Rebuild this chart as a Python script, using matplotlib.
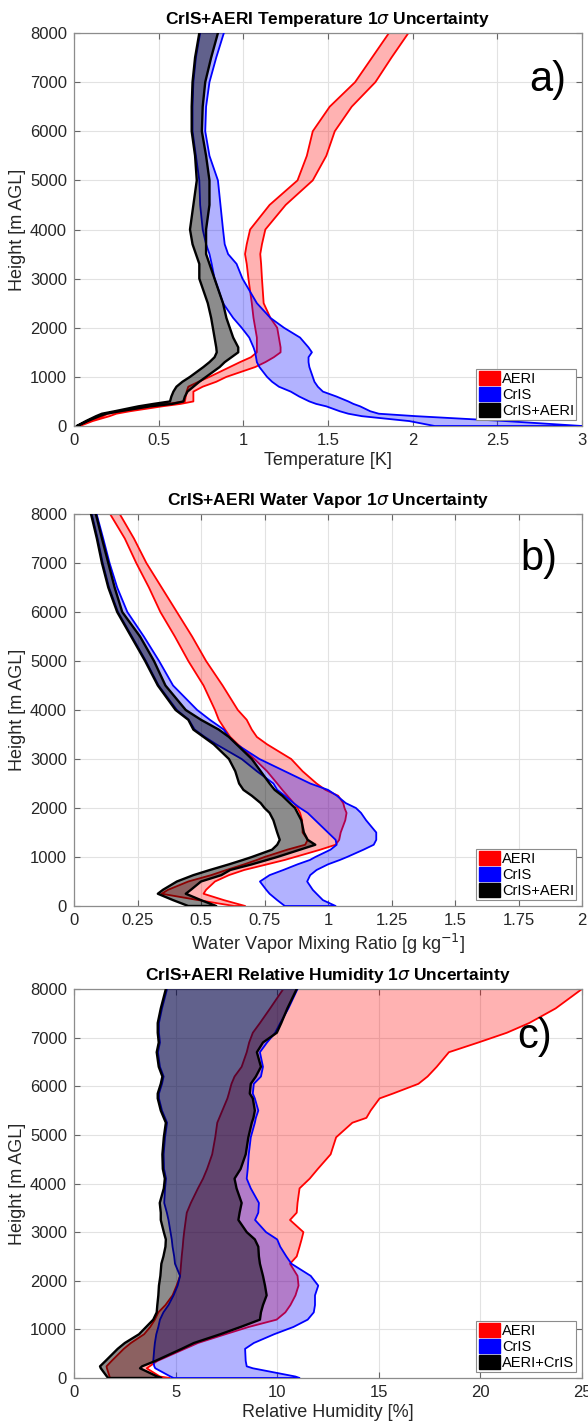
import numpy as np
import matplotlib
matplotlib.use("Agg")
import matplotlib.pyplot as plt
from matplotlib.patches import Patch

plt.rcParams['font.family'] = ['Liberation Sans', 'DejaVu Sans']

# ---------- Data ----------
# (a) Temperature 1-sigma uncertainty [K]
a_height = [0, 100, 200, 250, 300, 400, 450, 500, 600, 700, 800, 900, 1000, 1200,
            1300, 1400, 1500, 1600, 1800, 2000, 2200, 2500, 3000, 3300, 3500, 3700,
            4000, 4500, 5000, 5500, 6000, 6500, 7000, 7500, 8000]
a_aeri_lo = [0.02, 0.09, 0.17, 0.20, 0.27, 0.44, 0.55, 0.655, 0.66, 0.665, 0.675, 0.735,
             0.80, 0.92, 0.98, 1.045, 1.08, 1.08, 1.08, 1.07, 1.06, 1.05, 1.03, 1.02,
             1.01, 1.02, 1.04, 1.155, 1.32, 1.375, 1.41, 1.51, 1.66, 1.76, 1.86]
a_aeri_hi = [0.035, 0.11, 0.21, 0.25, 0.33, 0.52, 0.63, 0.705, 0.705, 0.705, 0.76, 0.84,
             0.90, 1.07, 1.13, 1.18, 1.22, 1.22, 1.21, 1.20, 1.16, 1.12, 1.11, 1.105,
             1.10, 1.11, 1.13, 1.25, 1.41, 1.49, 1.54, 1.64, 1.78, 1.875, 1.975]
a_cris_lo = [2.13, 1.98, 1.70, 1.62, 1.57, 1.49, 1.43, 1.39, 1.33, 1.28, 1.21, 1.17,
             1.14, 1.095, 1.08, 1.075, 1.07, 1.06, 1.035, 0.99, 0.94, 0.88, 0.83, 0.813,
             0.80, 0.78, 0.76, 0.745, 0.74, 0.72, 0.70, 0.70, 0.705, 0.72, 0.745]
a_cris_hi = [3.0, 2.55, 2.02, 1.80, 1.75, 1.69, 1.65, 1.62, 1.55, 1.47, 1.44, 1.42,
             1.41, 1.39, 1.385, 1.385, 1.405, 1.385, 1.335, 1.24, 1.16, 1.08, 0.995, 0.96,
             0.91, 0.89, 0.88, 0.865, 0.85, 0.80, 0.775, 0.78, 0.80, 0.84, 0.885]
a_both_lo = [0.016, 0.07, 0.13, 0.165, 0.24, 0.38, 0.47, 0.567, 0.575, 0.587, 0.605, 0.64,
             0.685, 0.764, 0.80, 0.83, 0.843, 0.84, 0.83, 0.82, 0.81, 0.79, 0.74, 0.74,
             0.72, 0.70, 0.685, 0.705, 0.725, 0.715, 0.695, 0.695, 0.70, 0.715, 0.74]
a_both_hi = [0.02, 0.08, 0.15, 0.19, 0.27, 0.45, 0.58, 0.646, 0.655, 0.67, 0.705, 0.74,
             0.78, 0.86, 0.89, 0.93, 0.97, 0.97, 0.94, 0.92, 0.90, 0.88, 0.83, 0.80,
             0.78, 0.78, 0.78, 0.80, 0.80, 0.78, 0.755, 0.76, 0.775, 0.81, 0.85]

# (b) Water vapour mixing ratio 1-sigma uncertainty [g/kg]
b_height = [0, 120, 250, 330, 500, 630, 735, 850, 940, 1000, 1150, 1250, 1350, 1500,
            1750, 1900, 2000, 2100, 2250, 2370, 2500, 2750, 3000, 3300, 3450, 3600,
            3800, 4000, 4500, 5000, 5500, 6000, 6500, 7000, 7500, 8000]
b_aeri_lo = [0.63, 0.49, 0.345, 0.37, 0.45, 0.54, 0.60, 0.67, 0.72, 0.75, 0.84, 0.91,
             0.92, 0.90, 0.898, 0.89, 0.88, 0.865, 0.84, 0.82, 0.80, 0.76, 0.71, 0.645,
             0.615, 0.595, 0.57, 0.555, 0.51, 0.45, 0.397, 0.34, 0.295, 0.245, 0.20, 0.142]
b_aeri_hi = [0.674, 0.59, 0.51, 0.52, 0.555, 0.61, 0.67, 0.76, 0.83, 0.87, 0.97, 1.03,
             1.044, 1.05, 1.068, 1.073, 1.065, 1.06, 1.04, 0.99, 0.955, 0.90, 0.855, 0.76,
             0.72, 0.70, 0.68, 0.645, 0.585, 0.52, 0.465, 0.405, 0.345, 0.285, 0.236, 0.18]
b_cris_lo = [0.83, 0.80, 0.77, 0.757, 0.732, 0.77, 0.824, 0.88, 0.929, 0.95, 1.01, 1.034,
             1.03, 1.0, 0.95, 0.92, 0.89, 0.864, 0.83, 0.80, 0.785, 0.72, 0.66, 0.56,
             0.515, 0.475, 0.452, 0.405, 0.333, 0.283, 0.228, 0.173, 0.138, 0.113, 0.093, 0.07]
b_cris_hi = [1.03, 0.98, 0.955, 0.94, 0.918, 0.93, 0.955, 1.0, 1.047, 1.075, 1.14, 1.18,
             1.19, 1.19, 1.15, 1.13, 1.11, 1.07, 1.035, 1.0, 0.93, 0.83, 0.73, 0.64,
             0.61, 0.59, 0.535, 0.485, 0.39, 0.335, 0.275, 0.21, 0.17, 0.14, 0.115, 0.089]
b_both_lo = [0.45, 0.39, 0.33, 0.35, 0.405, 0.47, 0.535, 0.61, 0.665, 0.70, 0.78, 0.80,
             0.81, 0.80, 0.785, 0.77, 0.75, 0.735, 0.70, 0.667, 0.65, 0.635, 0.61, 0.55,
             0.51, 0.47, 0.45, 0.40, 0.33, 0.28, 0.225, 0.17, 0.135, 0.11, 0.09, 0.067]
b_both_hi = [0.56, 0.50, 0.44, 0.46, 0.50, 0.58, 0.615, 0.70, 0.76, 0.80, 0.89, 0.95,
             0.92, 0.905, 0.895, 0.88, 0.87, 0.85, 0.82, 0.79, 0.77, 0.735, 0.70, 0.64,
             0.61, 0.57, 0.50, 0.44, 0.36, 0.315, 0.26, 0.19, 0.16, 0.135, 0.11, 0.086]

# (c) Relative humidity 1-sigma uncertainty [%]
c_height = [0, 30, 200, 240, 350, 600, 720, 900, 1050, 1200, 1350, 1500, 1700, 1900,
            2100, 2350, 2500, 2700, 2850, 3000, 3250, 3400, 3600, 3900, 4100, 4300,
            4600, 4950, 5250, 5350, 5500, 5750, 5850, 6050, 6200, 6400, 6700, 6900,
            7100, 7300, 7600, 8000]
c_aeri_lo = [1.77, 1.75, 1.62, 1.6, 1.85, 2.45, 2.8, 3.45, 3.75, 3.98, 4.15, 4.5, 4.85,
             5.05, 5.22, 5.27, 5.3, 5.35, 5.38, 5.42, 5.5, 5.55, 5.75, 6.1, 6.35, 6.55,
             6.8, 6.95, 7.05, 7.15, 7.3, 7.55, 7.62, 7.75, 7.9, 8.25, 8.5, 8.62, 8.8,
             9.15, 9.65, 10.3]
c_aeri_hi = [4.72, 4.23, 3.58, 3.72, 4.1, 5.45, 6.1, 7.45, 8.6, 9.97, 10.4, 10.65, 10.9,
             11.05, 11.0, 10.63, 10.96, 11.1, 11.2, 11.29, 10.63, 10.96, 11.0, 11.1, 11.6,
             12.0, 12.63, 12.9, 13.7, 14.39, 14.6, 15.04, 15.7, 16.95, 17.4, 17.85, 18.45,
             19.9, 21.3, 22.4, 23.7, 25.0]
c_cris_lo = [4.9, 4.75, 4.0, 3.95, 3.9, 3.95, 3.98, 4.05, 4.15, 4.23, 4.4, 4.65, 4.9,
             5.1, 5.22, 4.97, 4.93, 4.85, 4.81, 4.75, 4.65, 4.57, 4.44, 4.48, 4.53, 4.43,
             4.41, 4.48, 4.58, 4.48, 4.33, 4.18, 4.18, 4.33, 4.41, 4.23, 4.13, 4.23, 4.18,
             4.18, 4.33, 4.58]
c_cris_hi = [11.1, 10.9, 8.8, 8.5, 8.45, 8.42, 8.85, 9.85, 10.8, 11.5, 11.8, 11.86, 11.86,
             12.02, 11.65, 10.7, 10.45, 10.15, 10.0, 9.45, 8.91, 9.07, 9.1, 8.7, 8.5, 8.55,
             8.6, 8.7, 8.9, 8.95, 9.07, 8.9, 8.8, 8.85, 9.2, 9.3, 9.15, 9.5, 9.9, 10.15,
             10.55, 11.0]
c_both_lo = [1.69, 1.62, 1.32, 1.28, 1.55, 2.15, 2.5, 3.2, 3.55, 3.9, 4.07, 4.1, 4.15,
             4.18, 4.25, 4.3, 4.4, 4.5, 4.52, 4.42, 4.27, 4.27, 4.22, 4.42, 4.47, 4.37,
             4.35, 4.42, 4.52, 4.42, 4.27, 4.12, 4.12, 4.27, 4.35, 4.17, 4.07, 4.17, 4.12,
             4.12, 4.27, 4.52]
c_both_hi = [4.3, 4.1, 3.25, 3.35, 4.0, 5.3, 5.9, 7.2, 8.2, 9.15, 9.2, 9.3, 9.48, 9.4,
             9.3, 9.15, 9.1, 9.07, 8.9, 8.5, 8.09, 8.15, 8.25, 8.0, 7.9, 8.2, 8.45, 8.58,
             8.75, 8.83, 8.9, 8.8, 8.65, 8.7, 8.95, 9.2, 9.0, 9.3, 9.98, 10.2, 10.5, 10.96]

a_xticks = [0, 0.5, 1, 1.5, 2, 2.5, 3]
a_xticklabels = ['0', '0.5', '1', '1.5', '2', '2.5', '3']
b_xticks = [0, 0.25, 0.5, 0.75, 1, 1.25, 1.5, 1.75, 2]
b_xticklabels = ['0', '0.25', '0.5', '0.75', '1', '1.25', '1.5', '1.75', '2']
c_xticks = [0, 5, 10, 15, 20, 25]
c_xticklabels = ['0', '5', '10', '15', '20', '25']
y_ticks = [0, 1000, 2000, 3000, 4000, 5000, 6000, 7000, 8000]

# ---------- Figure ----------
W, H = 588, 1427
fig = plt.figure(figsize=(W / 100, H / 100), dpi=100)


def px_axes(left, top, right, bottom):
    return [left / W, 1 - bottom / H, (right - left) / W, (bottom - top) / H]


TXT = '#262626'


def draw_band(ax, z, lo, hi, color, alpha, lw, zo):
    z, lo, hi = np.asarray(z, float), np.asarray(lo, float), np.asarray(hi, float)
    ax.fill_betweenx(z, lo, hi, facecolor=color, alpha=alpha, linewidth=0, zorder=zo)
    # outline: down the left edge, across the bottom, up the right edge
    ax.plot(np.r_[lo[::-1], hi], np.r_[z[::-1], z], color=color, lw=lw,
            solid_joinstyle='round', zorder=zo + 0.1)


def style(ax, xmax, xticks, xticklabels, xlabel, title, letter, lx, ly, labels):
    ax.set_xlim(0, xmax)
    ax.set_ylim(0, 8000)
    ax.set_xticks(xticks)
    ax.set_xticklabels(xticklabels)
    ax.set_yticks(y_ticks)
    ax.grid(True, color='#e2e2e2', lw=0.8)
    ax.set_axisbelow(True)
    ax.tick_params(direction='in', top=True, right=True, length=4, width=0.8,
                   color='#666666', labelsize=12, labelcolor=TXT, pad=5)
    for sp in ax.spines.values():
        sp.set_color('#8c8c8c')
        sp.set_linewidth(0.9)
    ax.set_xlabel(xlabel, fontsize=13, color=TXT, labelpad=3)
    ax.set_ylabel('Height [m AGL]', fontsize=13, color=TXT, labelpad=3)
    ax.set_title(title, fontsize=12.5, fontweight='bold', pad=6.5)
    ax.text(lx, ly, letter, transform=ax.transAxes, fontsize=30,
            ha='center', va='center', zorder=10)
    handles = [Patch(facecolor=c, edgecolor=c) for c in ('#ff0000', '#0000ff', '#000000')]
    leg = ax.legend(handles, labels, loc='lower right', fontsize=10.5,
                    handlelength=1.5, handleheight=1.1, handletextpad=0.1,
                    labelspacing=0.08, borderpad=0.15, borderaxespad=0.4,
                    fancybox=False, framealpha=1, edgecolor='#8c8c8c')
    leg.get_frame().set_linewidth(0.8)
    leg.set_zorder(20)


panels = [
    (px_axes(74, 33, 582, 426), a_height,
     (a_aeri_lo, a_aeri_hi), (a_cris_lo, a_cris_hi), (a_both_lo, a_both_hi),
     3, a_xticks, a_xticklabels, 'Temperature [K]',
     r'CrIS+AERI Temperature 1$\sigma$ Uncertainty', 'a)', 0.933, 0.880,
     ['AERI', 'CrIS', 'CrIS+AERI']),
    (px_axes(74, 514, 582, 906), b_height,
     (b_aeri_lo, b_aeri_hi), (b_cris_lo, b_cris_hi), (b_both_lo, b_both_hi),
     2, b_xticks, b_xticklabels, r'Water Vapor Mixing Ratio [g kg$^{-1}$]',
     r'CrIS+AERI Water Vapor 1$\sigma$ Uncertainty', 'b)', 0.915, 0.885,
     ['AERI', 'CrIS', 'CrIS+AERI']),
    (px_axes(74, 989, 582, 1378), c_height,
     (c_aeri_lo, c_aeri_hi), (c_cris_lo, c_cris_hi), (c_both_lo, c_both_hi),
     25, c_xticks, c_xticklabels, 'Relative Humidity [%]',
     r'CrIS+AERI Relative Humidity 1$\sigma$ Uncertainty', 'c)', 0.907, 0.877,
     ['AERI', 'CrIS', 'AERI+CrIS']),
]

for (rect, z, aeri, cris, both, xmax, xt, xtl, xlab, title,
     letter, lx, ly, labels) in panels:
    ax = fig.add_axes(rect)
    draw_band(ax, z, aeri[0], aeri[1], '#ff0000', 0.30, 1.3, 2)
    draw_band(ax, z, cris[0], cris[1], '#0000ff', 0.30, 1.3, 3)
    draw_band(ax, z, both[0], both[1], '#000000', 0.45, 1.7, 4)
    style(ax, xmax, xt, xtl, xlab, title, letter, lx, ly, labels)

fig.savefig('out.png', dpi=100)
